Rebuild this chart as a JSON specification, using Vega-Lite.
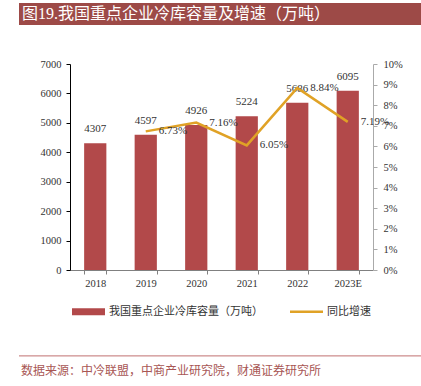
{
  "$schema": "https://vega.github.io/schema/vega-lite/v6.json",
  "padding": {"left": 18, "top": 3, "right": 0, "bottom": 0},
  "background": "white",
  "spacing": 39,
  "bounds": "flush",
  "config": {"view": {"stroke": null}, "font": "Liberation Serif"},
  "datasets": {
    "main": [
      {"year": "2018", "cap": 4307, "g": null},
      {"year": "2019", "cap": 4597, "g": 0.0673},
      {"year": "2020", "cap": 4926, "g": 0.0716},
      {"year": "2021", "cap": 5224, "g": 0.0605},
      {"year": "2022", "cap": 5686, "g": 0.0884},
      {"year": "2023E", "cap": 6095, "g": 0.0719}
    ]
  },
  "resolve": {"scale": {"color": "independent"}, "legend": {"color": "independent"}},
  "vconcat": [
    {
      "width": 403,
      "height": 22,
      "view": {"fill": "#9D4A47", "stroke": null},
      "data": {"values": [{"t": "图19.我国重点企业冷库容量及增速（万吨）"}]},
      "mark": {"type": "text", "align": "left", "baseline": "middle", "color": "white", "fontSize": 16, "font": "Liberation Serif, Noto Sans CJK SC", "dx": 3},
      "encoding": {
        "text": {"field": "t"},
        "x": {"datum": 0, "type": "quantitative", "scale": {"domain": [0, 1]}, "axis": null}
      }
    },
    {
      "width": 354,
      "height": 206,
      "data": {"name": "main"},
      "encoding": {
        "x": {
          "field": "year", "type": "nominal", "sort": null,
          "scale": {"range": [51, 354], "paddingInner": 0.56, "paddingOuter": 0.28},
          "axis": {"title": null, "labelAngle": 0, "tickBand": "extent", "domainColor": "#808080", "tickColor": "#808080", "tickSize": 4, "labelFontSize": 10.5, "labelColor": "#333333", "labelPadding": 4, "labelFont": "Liberation Serif"}
        }
      },
      "layer": [
        {
          "encoding": {
            "y": {"field": "cap", "type": "quantitative", "scale": {"domain": [0, 7000]},
              "axis": {"title": null, "offset": -51, "values": [0, 1000, 2000, 3000, 4000, 5000, 6000, 7000], "format": "d", "labelOverlap": false, "grid": false, "domainColor": "#000000", "tickColor": "#000000", "tickSize": 4, "labelPadding": 5, "labelFontSize": 10.5, "labelColor": "#333333", "labelFont": "Liberation Serif"}}
          },
          "layer": [
            {
              "mark": {"type": "bar", "color": "#B2494A"},
              "encoding": {
                "color": {
                  "datum": "我国重点企业冷库容量（万吨）",
                  "scale": {"domain": ["我国重点企业冷库容量（万吨）", "同比增速"], "range": ["#B2494A", "#E0A226"]},
                  "legend": {
                    "title": null, "orient": "none", "legendX": 53, "legendY": 231, "direction": "horizontal", "padding": 0,
                    "labelFont": "Noto Sans CJK SC", "labelFontSize": 11, "labelColor": "#333333",
                    "symbolSize": 1089, "symbolStrokeWidth": 0, "labelOffset": 4, "columnPadding": 27,
                    "encode": {
                      "symbols": {
                        "update": {
                          "shape": {"signal": "datum.value === '同比增速' ? 'M-1,-0.08H1V0.08H-1Z' : 'M-1,-0.21H1V0.21H-1Z'"},
                          "fill": {"signal": "datum.value === '同比增速' ? '#E0A226' : '#B2494A'"},
                          "opacity": {"value": 1}
                        }
                      }
                    }
                  }
                }
              }
            },
            {
              "mark": {"type": "text", "baseline": "bottom", "dy": -9, "fontSize": 11, "color": "#333333", "font": "Liberation Serif"},
              "encoding": {
                "text": {"field": "cap", "type": "quantitative", "format": "d"}
              }
            }
          ]
        },
        {
          "encoding": {
            "y": {"field": "g", "type": "quantitative", "scale": {"domain": [0, 0.1]},
              "axis": {"orient": "right", "title": null, "format": ".0%", "values": [0, 0.01, 0.02, 0.03, 0.04, 0.05, 0.06, 0.07, 0.08, 0.09, 0.1], "labelOverlap": false, "grid": false, "domainColor": "#AAAAAA", "tickColor": "#AAAAAA", "tickSize": 4, "labelPadding": 6, "labelFontSize": 10.5, "labelColor": "#333333", "labelFont": "Liberation Serif"}}
          },
          "layer": [
            {
              "mark": {"type": "line", "strokeWidth": 2.5},
              "encoding": {
                "color": {"datum": "同比增速"}
              }
            },
            {
              "mark": {"type": "text", "align": "left", "baseline": "middle", "dx": 13, "fontSize": 11, "color": "#333333", "font": "Liberation Serif"},
              "encoding": {
                "text": {"field": "g", "type": "quantitative", "format": ".2%"}
              }
            }
          ]
        }
      ],
      "resolve": {"scale": {"y": "independent"}}
    },
    {
      "width": 403,
      "height": 70,
      "data": {"values": [{"t": "数据来源：中冷联盟，中商产业研究院，财通证券研究所"}]},
      "layer": [
        {
          "mark": {"type": "rule", "color": "#C07070", "strokeWidth": 1},
          "encoding": {
            "x": {"datum": 0, "type": "quantitative", "scale": {"domain": [0, 1]}, "axis": null},
            "x2": {"datum": 1},
            "y": {"datum": 0.33, "type": "quantitative", "scale": {"domain": [0, 1]}, "axis": null}
          }
        },
        {
          "mark": {"type": "text", "align": "left", "baseline": "middle", "dx": 2, "fontSize": 12, "color": "#A85654", "font": "Noto Sans CJK SC"},
          "encoding": {
            "text": {"field": "t"},
            "x": {"datum": 0, "type": "quantitative"},
            "y": {"datum": 0.12, "type": "quantitative"}
          }
        }
      ]
    }
  ]
}
